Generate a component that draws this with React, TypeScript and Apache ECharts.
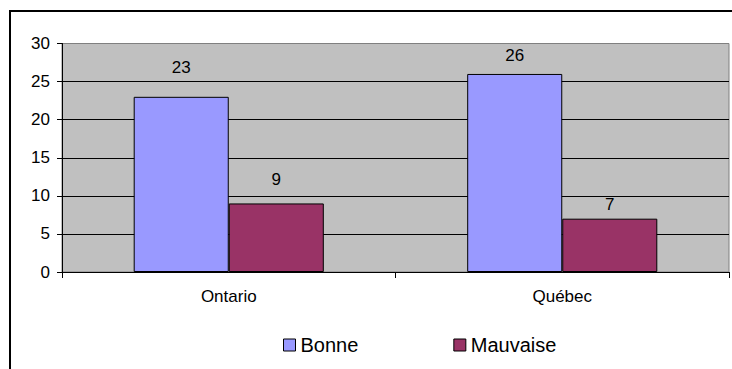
import React, { useEffect, useRef } from "react";
import * as echarts from "echarts";

// Province categories and response counts
const categories = ["Ontario", "Québec"];
const seriesNames = ["Bonne", "Mauvaise"];
const bonne = [23, 26];
const mauvaise = [9, 7];

// Value axis range
const yMin = 0;
const yMax = 30;
const yStep = 5;

// Spacing between each bar top and its value label (px)
const bonneLabelGap = [21, 10];
const mauvaiseLabelGap = [15, 6];

const FONT = "'Liberation Sans', Arial, sans-serif";

export default function App() {
  const ref = useRef<HTMLDivElement>(null);

  useEffect(() => {
    if (!ref.current) return;
    const chart = echarts.init(ref.current, undefined, { renderer: "svg" });

    const makeSeries = (name: string, values: number[], gaps: number[], color: string) => ({
      name,
      type: "bar",
      barGap: "0%",
      barCategoryGap: "43%",
      itemStyle: { color, borderColor: "#000", borderWidth: 1 },
      label: {
        show: true,
        position: "top",
        color: "#000",
        fontFamily: FONT,
        fontSize: 17,
      },
      data: values.map((v, i) => ({ value: v, label: { distance: gaps[i] } })),
    });

    chart.setOption({
      animation: false,
      backgroundColor: "#fff",
      textStyle: { fontFamily: FONT },
      graphic: [
        {
          type: "rect",
          shape: { x: 10, y: 11, width: 800, height: 500 },
          style: { fill: "none", stroke: "#000", lineWidth: 2 },
          silent: true,
        },
      ],
      grid: {
        left: 62,
        right: 3,
        top: 43.5,
        bottom: 97,
        show: true,
        backgroundColor: "#C0C0C0",
        borderColor: "#808080",
        borderWidth: 1,
      },
      legend: {
        data: seriesNames,
        left: 283,
        top: 335,
        padding: 0,
        icon: "rect",
        itemWidth: 12,
        itemHeight: 12,
        itemGap: 95,
        textStyle: { fontSize: 20, color: "#000", fontFamily: FONT },
        itemStyle: { borderColor: "#000", borderWidth: 1 },
      },
      xAxis: {
        type: "category",
        data: categories,
        axisLine: { show: true, lineStyle: { color: "#000", width: 1 } },
        axisTick: { show: true, length: 6, lineStyle: { color: "#000" } },
        axisLabel: { color: "#000", fontSize: 17, fontFamily: FONT, margin: 16 },
      },
      yAxis: {
        type: "value",
        min: yMin,
        max: yMax,
        interval: yStep,
        axisLine: { show: true, lineStyle: { color: "#000", width: 1 } },
        axisTick: { show: true, length: 5, lineStyle: { color: "#000" } },
        axisLabel: { color: "#000", fontSize: 17, fontFamily: FONT, margin: 12 },
        splitLine: {
          show: true,
          showMinLine: false,
          showMaxLine: false,
          lineStyle: { color: "#000", width: 1 },
        },
      },
      series: [
        makeSeries(seriesNames[0], bonne, bonneLabelGap, "#9999FF"),
        makeSeries(seriesNames[1], mauvaise, mauvaiseLabelGap, "#993366"),
      ],
    });

    return () => chart.dispose();
  }, []);

  return (
    <div
      ref={ref}
      style={{ position: "fixed", left: 0, top: 0, width: 732, height: 369 }}
    />
  );
}
